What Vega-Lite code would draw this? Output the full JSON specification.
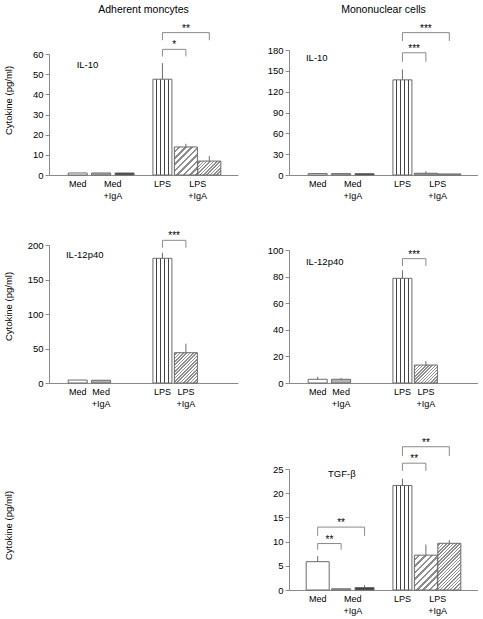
{
"$schema": "https://vega.github.io/schema/vega-lite/v6.json",
"padding": {"left": 3, "top": 4, "right": 0, "bottom": 0},
"config": {
 "font": "Liberation Sans",
 "view": {"stroke": null},
 "text": {"color": "black"},
 "title": {"fontSize": 10.5, "fontWeight": "normal", "frame": "group", "offset": 6, "color": "black", "font": "Liberation Sans"},
 "axis": {"domainColor": "#8a8a8a", "tickColor": "#8a8a8a", "labelColor": "black", "labelFontSize": 9.5, "labelFont": "Liberation Sans", "titleFont": "Liberation Sans", "titleFontSize": 9.5, "titleFontWeight": "normal", "titleColor": "black", "tickSize": 4, "labelPadding": 2, "grid": false, "labelOverlap": false}
},
"datasets": {
 "bars": [
  {"p":"A","cond":"Med","trt":"a","v":1.0},
  {"p":"A","cond":"Med","trt":"b","v":1.0},
  {"p":"A","cond":"Med","trt":"c","v":1.0},
  {"p":"A","cond":"LPS","trt":"a","v":47.5,"hi":55.5},
  {"p":"A","cond":"LPS","trt":"b","v":13.9,"hi":15.5},
  {"p":"A","cond":"LPS","trt":"c","v":6.9,"hi":9.4},
  {"p":"B","cond":"Med","trt":"a","v":2.0},
  {"p":"B","cond":"Med","trt":"b","v":2.0},
  {"p":"B","cond":"Med","trt":"c","v":2.0},
  {"p":"B","cond":"LPS","trt":"a","v":137,"hi":152},
  {"p":"B","cond":"LPS","trt":"b","v":2.5,"hi":5.5},
  {"p":"B","cond":"LPS","trt":"c","v":1.5},
  {"p":"C","cond":"Med","trt":"a","v":4.3},
  {"p":"C","cond":"Med","trt":"b","v":4.0},
  {"p":"C","cond":"LPS","trt":"a","v":180.7,"hi":188.8},
  {"p":"C","cond":"LPS","trt":"b","v":43.9,"hi":57},
  {"p":"D","cond":"Med","trt":"a","v":2.8,"hi":4.7},
  {"p":"D","cond":"Med","trt":"b","v":2.8,"hi":3.8},
  {"p":"D","cond":"LPS","trt":"a","v":78.7,"hi":84.7},
  {"p":"D","cond":"LPS","trt":"b","v":13.5,"hi":16.5},
  {"p":"E","cond":"Med","trt":"a","v":5.85,"hi":7.0},
  {"p":"E","cond":"Med","trt":"b","v":0.25},
  {"p":"E","cond":"Med","trt":"c","v":0.5,"hi":1.0},
  {"p":"E","cond":"LPS","trt":"a","v":21.6,"hi":23.0},
  {"p":"E","cond":"LPS","trt":"b","v":7.2,"hi":9.4},
  {"p":"E","cond":"LPS","trt":"c","v":9.65,"hi":10.3}
 ],
 "brk": [
  {"p":"A","bid":"A1","cond":"LPS","trt":"a","v":58.8,"o":1},
  {"p":"A","bid":"A1","cond":"LPS","trt":"a","v":62.3,"o":2},
  {"p":"A","bid":"A1","cond":"LPS","trt":"b","v":62.3,"o":3},
  {"p":"A","bid":"A1","cond":"LPS","trt":"b","v":58.8,"o":4},
  {"p":"A","bid":"A2","cond":"LPS","trt":"a","v":66.8,"o":1},
  {"p":"A","bid":"A2","cond":"LPS","trt":"a","v":70.6,"o":2},
  {"p":"A","bid":"A2","cond":"LPS","trt":"c","v":70.6,"o":3},
  {"p":"A","bid":"A2","cond":"LPS","trt":"c","v":66.8,"o":4},
  {"p":"B","bid":"B1","cond":"LPS","trt":"a","v":163,"o":1},
  {"p":"B","bid":"B1","cond":"LPS","trt":"a","v":176,"o":2},
  {"p":"B","bid":"B1","cond":"LPS","trt":"b","v":176,"o":3},
  {"p":"B","bid":"B1","cond":"LPS","trt":"b","v":163,"o":4},
  {"p":"B","bid":"B2","cond":"LPS","trt":"a","v":193,"o":1},
  {"p":"B","bid":"B2","cond":"LPS","trt":"a","v":205,"o":2},
  {"p":"B","bid":"B2","cond":"LPS","trt":"c","v":205,"o":3},
  {"p":"B","bid":"B2","cond":"LPS","trt":"c","v":193,"o":4},
  {"p":"C","bid":"C1","cond":"LPS","trt":"a","v":196,"o":1},
  {"p":"C","bid":"C1","cond":"LPS","trt":"a","v":206.8,"o":2},
  {"p":"C","bid":"C1","cond":"LPS","trt":"b","v":206.8,"o":3},
  {"p":"C","bid":"C1","cond":"LPS","trt":"b","v":196,"o":4},
  {"p":"D","bid":"D1","cond":"LPS","trt":"a","v":88,"o":1},
  {"p":"D","bid":"D1","cond":"LPS","trt":"a","v":93.5,"o":2},
  {"p":"D","bid":"D1","cond":"LPS","trt":"b","v":93.5,"o":3},
  {"p":"D","bid":"D1","cond":"LPS","trt":"b","v":88,"o":4},
  {"p":"E","bid":"E1","cond":"Med","trt":"a","v":8.3,"o":1},
  {"p":"E","bid":"E1","cond":"Med","trt":"a","v":9.6,"o":2},
  {"p":"E","bid":"E1","cond":"Med","trt":"b","v":9.6,"o":3},
  {"p":"E","bid":"E1","cond":"Med","trt":"b","v":8.3,"o":4},
  {"p":"E","bid":"E2","cond":"Med","trt":"a","v":11.2,"o":1},
  {"p":"E","bid":"E2","cond":"Med","trt":"a","v":13.0,"o":2},
  {"p":"E","bid":"E2","cond":"Med","trt":"c","v":13.0,"o":3},
  {"p":"E","bid":"E2","cond":"Med","trt":"c","v":11.2,"o":4},
  {"p":"E","bid":"E3","cond":"LPS","trt":"a","v":24.6,"o":1},
  {"p":"E","bid":"E3","cond":"LPS","trt":"a","v":26.2,"o":2},
  {"p":"E","bid":"E3","cond":"LPS","trt":"b","v":26.2,"o":3},
  {"p":"E","bid":"E3","cond":"LPS","trt":"b","v":24.6,"o":4},
  {"p":"E","bid":"E4","cond":"LPS","trt":"a","v":27.7,"o":1},
  {"p":"E","bid":"E4","cond":"LPS","trt":"a","v":29.6,"o":2},
  {"p":"E","bid":"E4","cond":"LPS","trt":"c","v":29.6,"o":3},
  {"p":"E","bid":"E4","cond":"LPS","trt":"c","v":27.7,"o":4}
 ],
 "stars": [
  {"p":"A","cond":"LPS","from":"a","to":"b","v":62.3,"s":"*"},
  {"p":"A","cond":"LPS","from":"a","to":"c","v":70.6,"s":"**"},
  {"p":"B","cond":"LPS","from":"a","to":"b","v":176,"s":"***"},
  {"p":"B","cond":"LPS","from":"a","to":"c","v":205,"s":"***"},
  {"p":"C","cond":"LPS","from":"a","to":"b","v":206.8,"s":"***"},
  {"p":"D","cond":"LPS","from":"a","to":"b","v":93.5,"s":"***"},
  {"p":"E","cond":"Med","from":"a","to":"b","v":9.6,"s":"**"},
  {"p":"E","cond":"Med","from":"a","to":"c","v":13.0,"s":"**"},
  {"p":"E","cond":"LPS","from":"a","to":"b","v":26.2,"s":"**"},
  {"p":"E","cond":"LPS","from":"a","to":"c","v":29.6,"s":"**"}
 ],
 "labs": [
  {"p":"A","cond":"Med","first":"a","last":"a","text":"Med"},
  {"p":"A","cond":"Med","first":"b","last":"c","text":"Med\n+IgA"},
  {"p":"A","cond":"LPS","first":"a","last":"a","text":"LPS"},
  {"p":"A","cond":"LPS","first":"b","last":"c","text":"LPS\n+IgA"},
  {"p":"B","cond":"Med","first":"a","last":"a","text":"Med"},
  {"p":"B","cond":"Med","first":"b","last":"c","text":"Med\n+IgA"},
  {"p":"B","cond":"LPS","first":"a","last":"a","text":"LPS"},
  {"p":"B","cond":"LPS","first":"b","last":"c","text":"LPS\n+IgA"},
  {"p":"C","cond":"Med","first":"a","last":"a","text":"Med"},
  {"p":"C","cond":"Med","first":"b","last":"b","text":"Med\n+IgA"},
  {"p":"C","cond":"LPS","first":"a","last":"a","text":"LPS"},
  {"p":"C","cond":"LPS","first":"b","last":"b","text":"LPS\n+IgA"},
  {"p":"D","cond":"Med","first":"a","last":"a","text":"Med"},
  {"p":"D","cond":"Med","first":"b","last":"b","text":"Med\n+IgA"},
  {"p":"D","cond":"LPS","first":"a","last":"a","text":"LPS"},
  {"p":"D","cond":"LPS","first":"b","last":"b","text":"LPS\n+IgA"},
  {"p":"E","cond":"Med","first":"a","last":"a","text":"Med"},
  {"p":"E","cond":"Med","first":"b","last":"c","text":"Med\n+IgA"},
  {"p":"E","cond":"LPS","first":"a","last":"a","text":"LPS"},
  {"p":"E","cond":"LPS","first":"b","last":"c","text":"LPS\n+IgA"}
 ],
 "plab": [
  {"p":"A","text":"IL-10"},
  {"p":"B","text":"IL-10"},
  {"p":"C","text":"IL-12p40"},
  {"p":"D","text":"IL-12p40"},
  {"p":"E","text":"TGF-β"}
 ]
},
"columns": 2,
"bounds": "flush",
"spacing": {"row": 54, "column": 51},
"concat": [
 {
  "width": 189, "height": 154,
  "title": {"text": "Adherent moncytes"},
  "layer": [
   {"data": {"name": "bars"}, "transform": [{"filter": "datum.p==='A'"}],
    "mark": {"type": "bar", "stroke": "#6a6a6a", "strokeWidth": 1},
    "encoding": {
     "x": {"field": "cond", "type": "nominal", "scale": {"domain": ["Med","LPS"], "paddingInner": 0.17, "paddingOuter": 0.2}, "axis": {"labels": false, "ticks": false, "title": null}},
     "xOffset": {"field": "trt", "type": "nominal", "scale": {"domain": ["a","b","c"], "paddingInner": 0.19, "paddingOuter": 0.095}},
     "y": {"field": "v", "type": "quantitative", "scale": {"domain": [0,60], "range": [154,33], "nice": false, "zero": true}, "axis": {"values": [0,10,20,30,40,50,60], "title": "Cytokine (pg/ml)", "titleY": 79, "minExtent": 32, "maxExtent": 32, "titlePadding": 4}},
     "size": {"condition": {"test": "datum.cond==='LPS' && datum.trt!=='a'", "value": 23}, "value": 19},
     "fill": {"condition": [
      {"test": "datum.cond==='Med' && datum.trt==='b'", "value": "#b3b3b3"},
      {"test": "datum.cond==='Med' && datum.trt==='c'", "value": "#3c3c3c"},
      {"test": "datum.cond==='LPS' && datum.trt==='a'", "value": {"gradient": "linear", "x1": 0, "y1": 0, "x2": 1, "y2": 0, "stops": [{"offset":0,"color":"white"},{"offset":0.17,"color":"white"},{"offset":0.17,"color":"#444"},{"offset":0.23,"color":"#444"},{"offset":0.23,"color":"white"},{"offset":0.37,"color":"white"},{"offset":0.37,"color":"#444"},{"offset":0.43,"color":"#444"},{"offset":0.43,"color":"white"},{"offset":0.57,"color":"white"},{"offset":0.57,"color":"#444"},{"offset":0.63,"color":"#444"},{"offset":0.63,"color":"white"},{"offset":0.77,"color":"white"},{"offset":0.77,"color":"#444"},{"offset":0.83,"color":"#444"},{"offset":0.83,"color":"white"},{"offset":1,"color":"white"}]}},
      {"test": "datum.cond==='LPS' && datum.trt==='b'", "value": {"gradient": "linear", "x1": 0, "y1": 0, "x2": 0.893, "y2": 1.088, "stops": [{"offset":0,"color":"white"},{"offset":0.075,"color":"white"},{"offset":0.075,"color":"#8e8e8e"},{"offset":0.125,"color":"#8e8e8e"},{"offset":0.125,"color":"white"},{"offset":0.2,"color":"white"},{"offset":0.2,"color":"#8e8e8e"},{"offset":0.25,"color":"#8e8e8e"},{"offset":0.25,"color":"white"},{"offset":0.325,"color":"white"},{"offset":0.325,"color":"#8e8e8e"},{"offset":0.375,"color":"#8e8e8e"},{"offset":0.375,"color":"white"},{"offset":0.45,"color":"white"},{"offset":0.45,"color":"#8e8e8e"},{"offset":0.5,"color":"#8e8e8e"},{"offset":0.5,"color":"white"},{"offset":0.575,"color":"white"},{"offset":0.575,"color":"#8e8e8e"},{"offset":0.625,"color":"#8e8e8e"},{"offset":0.625,"color":"white"},{"offset":0.7,"color":"white"},{"offset":0.7,"color":"#8e8e8e"},{"offset":0.75,"color":"#8e8e8e"},{"offset":0.75,"color":"white"},{"offset":0.825,"color":"white"},{"offset":0.825,"color":"#8e8e8e"},{"offset":0.875,"color":"#8e8e8e"},{"offset":0.875,"color":"white"},{"offset":0.95,"color":"white"},{"offset":0.95,"color":"#8e8e8e"},{"offset":1,"color":"#8e8e8e"}]}},
      {"test": "datum.cond==='LPS' && datum.trt==='c'", "value": {"gradient": "linear", "x1": 0, "y1": 0, "x2": 1.175, "y2": 0.71, "stops": [{"offset":0,"color":"white"},{"offset":0.05,"color":"white"},{"offset":0.05,"color":"#8e8e8e"},{"offset":0.091,"color":"#8e8e8e"},{"offset":0.091,"color":"white"},{"offset":0.141,"color":"white"},{"offset":0.141,"color":"#8e8e8e"},{"offset":0.182,"color":"#8e8e8e"},{"offset":0.182,"color":"white"},{"offset":0.232,"color":"white"},{"offset":0.232,"color":"#8e8e8e"},{"offset":0.273,"color":"#8e8e8e"},{"offset":0.273,"color":"white"},{"offset":0.323,"color":"white"},{"offset":0.323,"color":"#8e8e8e"},{"offset":0.364,"color":"#8e8e8e"},{"offset":0.364,"color":"white"},{"offset":0.414,"color":"white"},{"offset":0.414,"color":"#8e8e8e"},{"offset":0.455,"color":"#8e8e8e"},{"offset":0.455,"color":"white"},{"offset":0.505,"color":"white"},{"offset":0.505,"color":"#8e8e8e"},{"offset":0.545,"color":"#8e8e8e"},{"offset":0.545,"color":"white"},{"offset":0.595,"color":"white"},{"offset":0.595,"color":"#8e8e8e"},{"offset":0.636,"color":"#8e8e8e"},{"offset":0.636,"color":"white"},{"offset":0.686,"color":"white"},{"offset":0.686,"color":"#8e8e8e"},{"offset":0.727,"color":"#8e8e8e"},{"offset":0.727,"color":"white"},{"offset":0.777,"color":"white"},{"offset":0.777,"color":"#8e8e8e"},{"offset":0.818,"color":"#8e8e8e"},{"offset":0.818,"color":"white"},{"offset":0.868,"color":"white"},{"offset":0.868,"color":"#8e8e8e"},{"offset":0.909,"color":"#8e8e8e"},{"offset":0.909,"color":"white"},{"offset":0.959,"color":"white"},{"offset":0.959,"color":"#8e8e8e"},{"offset":1,"color":"#8e8e8e"}]}}
     ], "value": "white"}
    }},
   {"data": {"name": "bars"}, "transform": [{"filter": "datum.p==='A' && isValid(datum.hi)"}], "mark": {"type": "rule", "color": "#6a6a6a", "strokeWidth": 1}, "encoding": {"x": {"field": "cond", "type": "nominal"}, "xOffset": {"field": "trt", "type": "nominal"}, "y": {"field": "v", "type": "quantitative", "axis": {"values": [0,10,20,30,40,50,60], "title": "Cytokine (pg/ml)", "titleY": 79, "minExtent": 32, "maxExtent": 32, "titlePadding": 4}}, "y2": {"field": "hi"}}},
   {"data": {"name": "brk"}, "transform": [{"filter": "datum.p==='A'"}], "mark": {"type": "line", "color": "#8a8a8a", "strokeWidth": 1}, "encoding": {"x": {"field": "cond", "type": "nominal"}, "xOffset": {"field": "trt", "type": "nominal"}, "y": {"field": "v", "type": "quantitative", "axis": {"values": [0,10,20,30,40,50,60], "title": "Cytokine (pg/ml)", "titleY": 79, "minExtent": 32, "maxExtent": 32, "titlePadding": 4}}, "detail": {"field": "bid"}, "order": {"field": "o", "type": "quantitative"}}},
   {"data": {"name": "stars"}, "transform": [{"filter": "datum.p==='A' && datum.to==='b'"}], "mark": {"type": "text", "color": "black", "dx": -11.7, "dy": -1, "baseline": "alphabetic", "fontSize": 10}, "encoding": {"x": {"field": "cond", "type": "nominal"}, "xOffset": {"datum": "b"}, "y": {"field": "v", "type": "quantitative", "axis": {"values": [0,10,20,30,40,50,60], "title": "Cytokine (pg/ml)", "titleY": 79, "minExtent": 32, "maxExtent": 32, "titlePadding": 4}}, "text": {"field": "s"}}},
   {"data": {"name": "stars"}, "transform": [{"filter": "datum.p==='A' && datum.to==='c'"}], "mark": {"type": "text", "color": "black", "dy": -1, "baseline": "alphabetic", "fontSize": 10}, "encoding": {"x": {"field": "cond", "type": "nominal"}, "xOffset": {"datum": "b"}, "y": {"field": "v", "type": "quantitative", "axis": {"values": [0,10,20,30,40,50,60], "title": "Cytokine (pg/ml)", "titleY": 79, "minExtent": 32, "maxExtent": 32, "titlePadding": 4}}, "text": {"field": "s"}}},
   {"data": {"name": "labs"}, "transform": [{"filter": "datum.p==='A' && datum.first===datum.last"}], "mark": {"type": "text", "color": "black", "baseline": "top", "dy": 5, "lineBreak": "\n", "lineHeight": 12, "fontSize": 9}, "encoding": {"x": {"field": "cond", "type": "nominal"}, "xOffset": {"field": "first"}, "y": {"datum": 0, "type": "quantitative", "axis": {"values": [0,10,20,30,40,50,60], "title": "Cytokine (pg/ml)", "titleY": 79, "minExtent": 32, "maxExtent": 32, "titlePadding": 4}}, "text": {"field": "text"}}},
   {"data": {"name": "labs"}, "transform": [{"filter": "datum.p==='A' && datum.first!==datum.last"}], "mark": {"type": "text", "color": "black", "baseline": "top", "dy": 5, "dx": -11.7, "lineBreak": "\n", "lineHeight": 12, "fontSize": 9}, "encoding": {"x": {"field": "cond", "type": "nominal"}, "xOffset": {"field": "last"}, "y": {"datum": 0, "type": "quantitative", "axis": {"values": [0,10,20,30,40,50,60], "title": "Cytokine (pg/ml)", "titleY": 79, "minExtent": 32, "maxExtent": 32, "titlePadding": 4}}, "text": {"field": "text"}}},
   {"data": {"name": "plab"}, "transform": [{"filter": "datum.p==='A'"}], "mark": {"type": "text", "color": "black", "align": "left", "baseline": "middle", "dx": -1, "fontSize": 9.5}, "encoding": {"x": {"datum": "Med"}, "xOffset": {"datum": "a"}, "y": {"datum": 54.5, "type": "quantitative", "axis": {"values": [0,10,20,30,40,50,60], "title": "Cytokine (pg/ml)", "titleY": 79, "minExtent": 32, "maxExtent": 32, "titlePadding": 4}}, "text": {"field": "text"}}}
  ]
 },
 {
  "width": 189, "height": 154,
  "title": {"text": "Mononuclear cells"},
  "layer": [
   {"data": {"name": "bars"}, "transform": [{"filter": "datum.p==='B'"}],
    "mark": {"type": "bar", "stroke": "#6a6a6a", "strokeWidth": 1},
    "encoding": {
     "x": {"field": "cond", "type": "nominal", "scale": {"domain": ["Med","LPS"], "paddingInner": 0.17, "paddingOuter": 0.2}, "axis": {"labels": false, "ticks": false, "title": null}},
     "xOffset": {"field": "trt", "type": "nominal", "scale": {"domain": ["a","b","c"], "paddingInner": 0.19, "paddingOuter": 0.095}},
     "y": {"field": "v", "type": "quantitative", "scale": {"domain": [0,180], "range": [154,29], "nice": false, "zero": true}, "axis": {"values": [0,30,60,90,120,150,180], "title": null}},
     "size": {"condition": {"test": "datum.cond==='LPS' && datum.trt!=='a'", "value": 23}, "value": 19},
     "fill": {"condition": [
      {"test": "datum.cond==='Med' && datum.trt==='b'", "value": "#b3b3b3"},
      {"test": "datum.cond==='Med' && datum.trt==='c'", "value": "#3c3c3c"},
      {"test": "datum.cond==='LPS' && datum.trt==='a'", "value": {"gradient": "linear", "x1": 0, "y1": 0, "x2": 1, "y2": 0, "stops": [{"offset":0,"color":"white"},{"offset":0.17,"color":"white"},{"offset":0.17,"color":"#444"},{"offset":0.23,"color":"#444"},{"offset":0.23,"color":"white"},{"offset":0.37,"color":"white"},{"offset":0.37,"color":"#444"},{"offset":0.43,"color":"#444"},{"offset":0.43,"color":"white"},{"offset":0.57,"color":"white"},{"offset":0.57,"color":"#444"},{"offset":0.63,"color":"#444"},{"offset":0.63,"color":"white"},{"offset":0.77,"color":"white"},{"offset":0.77,"color":"#444"},{"offset":0.83,"color":"#444"},{"offset":0.83,"color":"white"},{"offset":1,"color":"white"}]}},
      {"test": "datum.cond==='LPS'", "value": "#a8a8a8"}
     ], "value": "white"}
    }},
   {"data": {"name": "bars"}, "transform": [{"filter": "datum.p==='B' && isValid(datum.hi)"}], "mark": {"type": "rule", "color": "#6a6a6a", "strokeWidth": 1}, "encoding": {"x": {"field": "cond", "type": "nominal"}, "xOffset": {"field": "trt", "type": "nominal"}, "y": {"field": "v", "type": "quantitative", "axis": {"values": [0,30,60,90,120,150,180], "title": null}}, "y2": {"field": "hi"}}},
   {"data": {"name": "brk"}, "transform": [{"filter": "datum.p==='B'"}], "mark": {"type": "line", "color": "#8a8a8a", "strokeWidth": 1}, "encoding": {"x": {"field": "cond", "type": "nominal"}, "xOffset": {"field": "trt", "type": "nominal"}, "y": {"field": "v", "type": "quantitative", "axis": {"values": [0,30,60,90,120,150,180], "title": null}}, "detail": {"field": "bid"}, "order": {"field": "o", "type": "quantitative"}}},
   {"data": {"name": "stars"}, "transform": [{"filter": "datum.p==='B' && datum.to==='b'"}], "mark": {"type": "text", "color": "black", "dx": -11.7, "dy": -1, "baseline": "alphabetic", "fontSize": 10}, "encoding": {"x": {"field": "cond", "type": "nominal"}, "xOffset": {"datum": "b"}, "y": {"field": "v", "type": "quantitative", "axis": {"values": [0,30,60,90,120,150,180], "title": null}}, "text": {"field": "s"}}},
   {"data": {"name": "stars"}, "transform": [{"filter": "datum.p==='B' && datum.to==='c'"}], "mark": {"type": "text", "color": "black", "dy": -1, "baseline": "alphabetic", "fontSize": 10}, "encoding": {"x": {"field": "cond", "type": "nominal"}, "xOffset": {"datum": "b"}, "y": {"field": "v", "type": "quantitative", "axis": {"values": [0,30,60,90,120,150,180], "title": null}}, "text": {"field": "s"}}},
   {"data": {"name": "labs"}, "transform": [{"filter": "datum.p==='B' && datum.first===datum.last"}], "mark": {"type": "text", "color": "black", "baseline": "top", "dy": 5, "lineBreak": "\n", "lineHeight": 12, "fontSize": 9}, "encoding": {"x": {"field": "cond", "type": "nominal"}, "xOffset": {"field": "first"}, "y": {"datum": 0, "type": "quantitative", "axis": {"values": [0,30,60,90,120,150,180], "title": null}}, "text": {"field": "text"}}},
   {"data": {"name": "labs"}, "transform": [{"filter": "datum.p==='B' && datum.first!==datum.last"}], "mark": {"type": "text", "color": "black", "baseline": "top", "dy": 5, "dx": -11.7, "lineBreak": "\n", "lineHeight": 12, "fontSize": 9}, "encoding": {"x": {"field": "cond", "type": "nominal"}, "xOffset": {"field": "last"}, "y": {"datum": 0, "type": "quantitative", "axis": {"values": [0,30,60,90,120,150,180], "title": null}}, "text": {"field": "text"}}},
   {"data": {"name": "plab"}, "transform": [{"filter": "datum.p==='B'"}], "mark": {"type": "text", "color": "black", "align": "left", "baseline": "middle", "dx": -11.7, "fontSize": 9.5}, "encoding": {"x": {"datum": "Med"}, "xOffset": {"datum": "a"}, "y": {"datum": 167.8, "type": "quantitative", "axis": {"values": [0,30,60,90,120,150,180], "title": null}}, "text": {"field": "text"}}}
  ]
 },
 {
  "width": 189, "height": 154,
  "layer": [
   {"data": {"name": "bars"}, "transform": [{"filter": "datum.p==='C'"}],
    "mark": {"type": "bar", "stroke": "#6a6a6a", "strokeWidth": 1},
    "encoding": {
     "x": {"field": "cond", "type": "nominal", "scale": {"domain": ["Med","LPS"], "paddingInner": 0.17, "paddingOuter": 0.2}, "axis": {"labels": false, "ticks": false, "title": null}},
     "xOffset": {"field": "trt", "type": "nominal", "scale": {"domain": ["a","b","c"], "paddingInner": 0.19, "paddingOuter": 0.095}},
     "y": {"field": "v", "type": "quantitative", "scale": {"domain": [0,200], "range": [154,16], "nice": false, "zero": true}, "axis": {"values": [0,50,100,150,200], "title": "Cytokine (pg/ml)", "titleY": 77, "minExtent": 32, "maxExtent": 32, "titlePadding": 4}},
     "size": {"condition": {"test": "datum.cond==='LPS' && datum.trt!=='a'", "value": 23}, "value": 19},
     "fill": {"condition": [
      {"test": "datum.cond==='Med' && datum.trt==='b'", "value": "#b3b3b3"},
      {"test": "datum.cond==='LPS' && datum.trt==='a'", "value": {"gradient": "linear", "x1": 0, "y1": 0, "x2": 1, "y2": 0, "stops": [{"offset":0,"color":"white"},{"offset":0.17,"color":"white"},{"offset":0.17,"color":"#444"},{"offset":0.23,"color":"#444"},{"offset":0.23,"color":"white"},{"offset":0.37,"color":"white"},{"offset":0.37,"color":"#444"},{"offset":0.43,"color":"#444"},{"offset":0.43,"color":"white"},{"offset":0.57,"color":"white"},{"offset":0.57,"color":"#444"},{"offset":0.63,"color":"#444"},{"offset":0.63,"color":"white"},{"offset":0.77,"color":"white"},{"offset":0.77,"color":"#444"},{"offset":0.83,"color":"#444"},{"offset":0.83,"color":"white"},{"offset":1,"color":"white"}]}},
      {"test": "datum.cond==='LPS' && datum.trt==='b'", "value": {"gradient": "linear", "x1": 0, "y1": 0, "x2": 0.847, "y2": 1.116, "stops": [{"offset":0,"color":"white"},{"offset":0.034,"color":"white"},{"offset":0.034,"color":"#8e8e8e"},{"offset":0.0625,"color":"#8e8e8e"},{"offset":0.0625,"color":"white"},{"offset":0.097,"color":"white"},{"offset":0.097,"color":"#8e8e8e"},{"offset":0.125,"color":"#8e8e8e"},{"offset":0.125,"color":"white"},{"offset":0.159,"color":"white"},{"offset":0.159,"color":"#8e8e8e"},{"offset":0.1875,"color":"#8e8e8e"},{"offset":0.1875,"color":"white"},{"offset":0.222,"color":"white"},{"offset":0.222,"color":"#8e8e8e"},{"offset":0.25,"color":"#8e8e8e"},{"offset":0.25,"color":"white"},{"offset":0.284,"color":"white"},{"offset":0.284,"color":"#8e8e8e"},{"offset":0.3125,"color":"#8e8e8e"},{"offset":0.3125,"color":"white"},{"offset":0.347,"color":"white"},{"offset":0.347,"color":"#8e8e8e"},{"offset":0.375,"color":"#8e8e8e"},{"offset":0.375,"color":"white"},{"offset":0.409,"color":"white"},{"offset":0.409,"color":"#8e8e8e"},{"offset":0.4375,"color":"#8e8e8e"},{"offset":0.4375,"color":"white"},{"offset":0.472,"color":"white"},{"offset":0.472,"color":"#8e8e8e"},{"offset":0.5,"color":"#8e8e8e"},{"offset":0.5,"color":"white"},{"offset":0.534,"color":"white"},{"offset":0.534,"color":"#8e8e8e"},{"offset":0.5625,"color":"#8e8e8e"},{"offset":0.5625,"color":"white"},{"offset":0.597,"color":"white"},{"offset":0.597,"color":"#8e8e8e"},{"offset":0.625,"color":"#8e8e8e"},{"offset":0.625,"color":"white"},{"offset":0.659,"color":"white"},{"offset":0.659,"color":"#8e8e8e"},{"offset":0.6875,"color":"#8e8e8e"},{"offset":0.6875,"color":"white"},{"offset":0.722,"color":"white"},{"offset":0.722,"color":"#8e8e8e"},{"offset":0.75,"color":"#8e8e8e"},{"offset":0.75,"color":"white"},{"offset":0.784,"color":"white"},{"offset":0.784,"color":"#8e8e8e"},{"offset":0.8125,"color":"#8e8e8e"},{"offset":0.8125,"color":"white"},{"offset":0.847,"color":"white"},{"offset":0.847,"color":"#8e8e8e"},{"offset":0.875,"color":"#8e8e8e"},{"offset":0.875,"color":"white"},{"offset":0.909,"color":"white"},{"offset":0.909,"color":"#8e8e8e"},{"offset":0.9375,"color":"#8e8e8e"},{"offset":0.9375,"color":"white"},{"offset":0.972,"color":"white"},{"offset":0.972,"color":"#8e8e8e"},{"offset":1,"color":"#8e8e8e"}]}}
     ], "value": "white"}
    }},
   {"data": {"name": "bars"}, "transform": [{"filter": "datum.p==='C' && isValid(datum.hi)"}], "mark": {"type": "rule", "color": "#6a6a6a", "strokeWidth": 1}, "encoding": {"x": {"field": "cond", "type": "nominal"}, "xOffset": {"field": "trt", "type": "nominal"}, "y": {"field": "v", "type": "quantitative", "axis": {"values": [0,50,100,150,200], "title": "Cytokine (pg/ml)", "titleY": 77, "minExtent": 32, "maxExtent": 32, "titlePadding": 4}}, "y2": {"field": "hi"}}},
   {"data": {"name": "brk"}, "transform": [{"filter": "datum.p==='C'"}], "mark": {"type": "line", "color": "#8a8a8a", "strokeWidth": 1}, "encoding": {"x": {"field": "cond", "type": "nominal"}, "xOffset": {"field": "trt", "type": "nominal"}, "y": {"field": "v", "type": "quantitative", "axis": {"values": [0,50,100,150,200], "title": "Cytokine (pg/ml)", "titleY": 77, "minExtent": 32, "maxExtent": 32, "titlePadding": 4}}, "detail": {"field": "bid"}, "order": {"field": "o", "type": "quantitative"}}},
   {"data": {"name": "stars"}, "transform": [{"filter": "datum.p==='C' && datum.to==='b'"}], "mark": {"type": "text", "color": "black", "dx": -11.7, "dy": -1, "baseline": "alphabetic", "fontSize": 10}, "encoding": {"x": {"field": "cond", "type": "nominal"}, "xOffset": {"datum": "b"}, "y": {"field": "v", "type": "quantitative", "axis": {"values": [0,50,100,150,200], "title": "Cytokine (pg/ml)", "titleY": 77, "minExtent": 32, "maxExtent": 32, "titlePadding": 4}}, "text": {"field": "s"}}},
   {"data": {"name": "labs"}, "transform": [{"filter": "datum.p==='C'"}], "mark": {"type": "text", "color": "black", "baseline": "top", "dy": 5, "lineBreak": "\n", "lineHeight": 12, "fontSize": 9}, "encoding": {"x": {"field": "cond", "type": "nominal"}, "xOffset": {"field": "first"}, "y": {"datum": 0, "type": "quantitative", "axis": {"values": [0,50,100,150,200], "title": "Cytokine (pg/ml)", "titleY": 77, "minExtent": 32, "maxExtent": 32, "titlePadding": 4}}, "text": {"field": "text"}}},
   {"data": {"name": "plab"}, "transform": [{"filter": "datum.p==='C'"}], "mark": {"type": "text", "color": "black", "align": "left", "baseline": "middle", "dx": -11.7, "fontSize": 9.5}, "encoding": {"x": {"datum": "Med"}, "xOffset": {"datum": "a"}, "y": {"datum": 185.5, "type": "quantitative", "axis": {"values": [0,50,100,150,200], "title": "Cytokine (pg/ml)", "titleY": 77, "minExtent": 32, "maxExtent": 32, "titlePadding": 4}}, "text": {"field": "text"}}}
  ]
 },
 {
  "width": 189, "height": 154,
  "layer": [
   {"data": {"name": "bars"}, "transform": [{"filter": "datum.p==='D'"}],
    "mark": {"type": "bar", "stroke": "#6a6a6a", "strokeWidth": 1},
    "encoding": {
     "x": {"field": "cond", "type": "nominal", "scale": {"domain": ["Med","LPS"], "paddingInner": 0.17, "paddingOuter": 0.2}, "axis": {"labels": false, "ticks": false, "title": null}},
     "xOffset": {"field": "trt", "type": "nominal", "scale": {"domain": ["a","b","c"], "paddingInner": 0.19, "paddingOuter": 0.095}},
     "y": {"field": "v", "type": "quantitative", "scale": {"domain": [0,100], "range": [154,21], "nice": false, "zero": true}, "axis": {"values": [0,20,40,60,80,100], "title": null}},
     "size": {"condition": {"test": "datum.cond==='LPS' && datum.trt!=='a'", "value": 23}, "value": 19},
     "fill": {"condition": [
      {"test": "datum.cond==='Med' && datum.trt==='b'", "value": "#b3b3b3"},
      {"test": "datum.cond==='LPS' && datum.trt==='a'", "value": {"gradient": "linear", "x1": 0, "y1": 0, "x2": 1, "y2": 0, "stops": [{"offset":0,"color":"white"},{"offset":0.17,"color":"white"},{"offset":0.17,"color":"#444"},{"offset":0.23,"color":"#444"},{"offset":0.23,"color":"white"},{"offset":0.37,"color":"white"},{"offset":0.37,"color":"#444"},{"offset":0.43,"color":"#444"},{"offset":0.43,"color":"white"},{"offset":0.57,"color":"white"},{"offset":0.57,"color":"#444"},{"offset":0.63,"color":"#444"},{"offset":0.63,"color":"white"},{"offset":0.77,"color":"white"},{"offset":0.77,"color":"#444"},{"offset":0.83,"color":"#444"},{"offset":0.83,"color":"white"},{"offset":1,"color":"white"}]}},
      {"test": "datum.cond==='LPS' && datum.trt==='b'", "value": {"gradient": "linear", "x1": 0, "y1": 0, "x2": 1.106, "y2": 0.865, "stops": [{"offset":0,"color":"white"},{"offset":0.042,"color":"white"},{"offset":0.042,"color":"#8e8e8e"},{"offset":0.077,"color":"#8e8e8e"},{"offset":0.077,"color":"white"},{"offset":0.119,"color":"white"},{"offset":0.119,"color":"#8e8e8e"},{"offset":0.154,"color":"#8e8e8e"},{"offset":0.154,"color":"white"},{"offset":0.196,"color":"white"},{"offset":0.196,"color":"#8e8e8e"},{"offset":0.231,"color":"#8e8e8e"},{"offset":0.231,"color":"white"},{"offset":0.273,"color":"white"},{"offset":0.273,"color":"#8e8e8e"},{"offset":0.308,"color":"#8e8e8e"},{"offset":0.308,"color":"white"},{"offset":0.35,"color":"white"},{"offset":0.35,"color":"#8e8e8e"},{"offset":0.385,"color":"#8e8e8e"},{"offset":0.385,"color":"white"},{"offset":0.427,"color":"white"},{"offset":0.427,"color":"#8e8e8e"},{"offset":0.462,"color":"#8e8e8e"},{"offset":0.462,"color":"white"},{"offset":0.504,"color":"white"},{"offset":0.504,"color":"#8e8e8e"},{"offset":0.538,"color":"#8e8e8e"},{"offset":0.538,"color":"white"},{"offset":0.58,"color":"white"},{"offset":0.58,"color":"#8e8e8e"},{"offset":0.615,"color":"#8e8e8e"},{"offset":0.615,"color":"white"},{"offset":0.657,"color":"white"},{"offset":0.657,"color":"#8e8e8e"},{"offset":0.692,"color":"#8e8e8e"},{"offset":0.692,"color":"white"},{"offset":0.734,"color":"white"},{"offset":0.734,"color":"#8e8e8e"},{"offset":0.769,"color":"#8e8e8e"},{"offset":0.769,"color":"white"},{"offset":0.811,"color":"white"},{"offset":0.811,"color":"#8e8e8e"},{"offset":0.846,"color":"#8e8e8e"},{"offset":0.846,"color":"white"},{"offset":0.888,"color":"white"},{"offset":0.888,"color":"#8e8e8e"},{"offset":0.923,"color":"#8e8e8e"},{"offset":0.923,"color":"white"},{"offset":0.965,"color":"white"},{"offset":0.965,"color":"#8e8e8e"},{"offset":1,"color":"#8e8e8e"}]}}
     ], "value": "white"}
    }},
   {"data": {"name": "bars"}, "transform": [{"filter": "datum.p==='D' && isValid(datum.hi)"}], "mark": {"type": "rule", "color": "#6a6a6a", "strokeWidth": 1}, "encoding": {"x": {"field": "cond", "type": "nominal"}, "xOffset": {"field": "trt", "type": "nominal"}, "y": {"field": "v", "type": "quantitative", "axis": {"values": [0,20,40,60,80,100], "title": null}}, "y2": {"field": "hi"}}},
   {"data": {"name": "brk"}, "transform": [{"filter": "datum.p==='D'"}], "mark": {"type": "line", "color": "#8a8a8a", "strokeWidth": 1}, "encoding": {"x": {"field": "cond", "type": "nominal"}, "xOffset": {"field": "trt", "type": "nominal"}, "y": {"field": "v", "type": "quantitative", "axis": {"values": [0,20,40,60,80,100], "title": null}}, "detail": {"field": "bid"}, "order": {"field": "o", "type": "quantitative"}}},
   {"data": {"name": "stars"}, "transform": [{"filter": "datum.p==='D' && datum.to==='b'"}], "mark": {"type": "text", "color": "black", "dx": -11.7, "dy": -1, "baseline": "alphabetic", "fontSize": 10}, "encoding": {"x": {"field": "cond", "type": "nominal"}, "xOffset": {"datum": "b"}, "y": {"field": "v", "type": "quantitative", "axis": {"values": [0,20,40,60,80,100], "title": null}}, "text": {"field": "s"}}},
   {"data": {"name": "labs"}, "transform": [{"filter": "datum.p==='D'"}], "mark": {"type": "text", "color": "black", "baseline": "top", "dy": 5, "lineBreak": "\n", "lineHeight": 12, "fontSize": 9}, "encoding": {"x": {"field": "cond", "type": "nominal"}, "xOffset": {"field": "first"}, "y": {"datum": 0, "type": "quantitative", "axis": {"values": [0,20,40,60,80,100], "title": null}}, "text": {"field": "text"}}},
   {"data": {"name": "plab"}, "transform": [{"filter": "datum.p==='D'"}], "mark": {"type": "text", "color": "black", "align": "left", "baseline": "middle", "dx": -11.7, "fontSize": 9.5}, "encoding": {"x": {"datum": "Med"}, "xOffset": {"datum": "a"}, "y": {"datum": 91, "type": "quantitative", "axis": {"values": [0,20,40,60,80,100], "title": null}}, "text": {"field": "text"}}}
  ]
 },
 {
  "width": 189, "height": 153,
  "data": {"name": "bars"},
  "transform": [{"filter": "datum.p==='E'"}],
  "mark": {"type": "point", "opacity": 0},
  "encoding": {
   "y": {"field": "v", "type": "quantitative", "scale": {"domain": [0,25]}, "axis": {"title": "Cytokine (pg/ml)", "domain": false, "ticks": false, "labels": false, "titleY": 88, "minExtent": 32, "maxExtent": 32, "titlePadding": 4}}
  }
 },
 {
  "width": 189, "height": 153,
  "layer": [
   {"data": {"name": "bars"}, "transform": [{"filter": "datum.p==='E'"}],
    "mark": {"type": "bar", "stroke": "#6a6a6a", "strokeWidth": 1},
    "encoding": {
     "x": {"field": "cond", "type": "nominal", "scale": {"domain": ["Med","LPS"], "paddingInner": 0.17, "paddingOuter": 0.2}, "axis": {"labels": false, "ticks": false, "title": null}},
     "xOffset": {"field": "trt", "type": "nominal", "scale": {"domain": ["a","b","c"], "paddingInner": 0.19, "paddingOuter": 0.095}},
     "y": {"field": "v", "type": "quantitative", "scale": {"domain": [0,25], "range": [153,32], "nice": false, "zero": true}, "axis": {"values": [0,5,10,15,20,25], "title": null}},
     "size": {"condition": {"test": "(datum.cond==='LPS' && datum.trt!=='a') || (datum.cond==='Med' && datum.trt==='a')", "value": 23}, "value": 19},
     "fill": {"condition": [
      {"test": "datum.cond==='Med' && datum.trt==='b'", "value": "#b3b3b3"},
      {"test": "datum.cond==='Med' && datum.trt==='c'", "value": "#3c3c3c"},
      {"test": "datum.cond==='LPS' && datum.trt==='a'", "value": {"gradient": "linear", "x1": 0, "y1": 0, "x2": 1, "y2": 0, "stops": [{"offset":0,"color":"white"},{"offset":0.17,"color":"white"},{"offset":0.17,"color":"#444"},{"offset":0.23,"color":"#444"},{"offset":0.23,"color":"white"},{"offset":0.37,"color":"white"},{"offset":0.37,"color":"#444"},{"offset":0.43,"color":"#444"},{"offset":0.43,"color":"white"},{"offset":0.57,"color":"white"},{"offset":0.57,"color":"#444"},{"offset":0.63,"color":"#444"},{"offset":0.63,"color":"white"},{"offset":0.77,"color":"white"},{"offset":0.77,"color":"#444"},{"offset":0.83,"color":"#444"},{"offset":0.83,"color":"white"},{"offset":1,"color":"white"}]}},
      {"test": "datum.cond==='LPS' && datum.trt==='b'", "value": {"gradient": "linear", "x1": 0, "y1": 0, "x2": 0.764, "y2": 1.156, "stops": [{"offset":0,"color":"white"},{"offset":0.067,"color":"white"},{"offset":0.067,"color":"#8e8e8e"},{"offset":0.111,"color":"#8e8e8e"},{"offset":0.111,"color":"white"},{"offset":0.178,"color":"white"},{"offset":0.178,"color":"#8e8e8e"},{"offset":0.222,"color":"#8e8e8e"},{"offset":0.222,"color":"white"},{"offset":0.289,"color":"white"},{"offset":0.289,"color":"#8e8e8e"},{"offset":0.333,"color":"#8e8e8e"},{"offset":0.333,"color":"white"},{"offset":0.4,"color":"white"},{"offset":0.4,"color":"#8e8e8e"},{"offset":0.444,"color":"#8e8e8e"},{"offset":0.444,"color":"white"},{"offset":0.511,"color":"white"},{"offset":0.511,"color":"#8e8e8e"},{"offset":0.556,"color":"#8e8e8e"},{"offset":0.556,"color":"white"},{"offset":0.622,"color":"white"},{"offset":0.622,"color":"#8e8e8e"},{"offset":0.667,"color":"#8e8e8e"},{"offset":0.667,"color":"white"},{"offset":0.733,"color":"white"},{"offset":0.733,"color":"#8e8e8e"},{"offset":0.778,"color":"#8e8e8e"},{"offset":0.778,"color":"white"},{"offset":0.844,"color":"white"},{"offset":0.844,"color":"#8e8e8e"},{"offset":0.889,"color":"#8e8e8e"},{"offset":0.889,"color":"white"},{"offset":0.956,"color":"white"},{"offset":0.956,"color":"#8e8e8e"},{"offset":1,"color":"#8e8e8e"}]}},
      {"test": "datum.cond==='LPS' && datum.trt==='c'", "value": {"gradient": "linear", "x1": 0, "y1": 0, "x2": 0.592, "y2": 1.201, "stops": [{"offset":0,"color":"white"},{"offset":0.026,"color":"white"},{"offset":0.026,"color":"#8e8e8e"},{"offset":0.048,"color":"#8e8e8e"},{"offset":0.048,"color":"white"},{"offset":0.074,"color":"white"},{"offset":0.074,"color":"#8e8e8e"},{"offset":0.095,"color":"#8e8e8e"},{"offset":0.095,"color":"white"},{"offset":0.121,"color":"white"},{"offset":0.121,"color":"#8e8e8e"},{"offset":0.143,"color":"#8e8e8e"},{"offset":0.143,"color":"white"},{"offset":0.169,"color":"white"},{"offset":0.169,"color":"#8e8e8e"},{"offset":0.19,"color":"#8e8e8e"},{"offset":0.19,"color":"white"},{"offset":0.216,"color":"white"},{"offset":0.216,"color":"#8e8e8e"},{"offset":0.238,"color":"#8e8e8e"},{"offset":0.238,"color":"white"},{"offset":0.264,"color":"white"},{"offset":0.264,"color":"#8e8e8e"},{"offset":0.286,"color":"#8e8e8e"},{"offset":0.286,"color":"white"},{"offset":0.312,"color":"white"},{"offset":0.312,"color":"#8e8e8e"},{"offset":0.333,"color":"#8e8e8e"},{"offset":0.333,"color":"white"},{"offset":0.359,"color":"white"},{"offset":0.359,"color":"#8e8e8e"},{"offset":0.381,"color":"#8e8e8e"},{"offset":0.381,"color":"white"},{"offset":0.407,"color":"white"},{"offset":0.407,"color":"#8e8e8e"},{"offset":0.429,"color":"#8e8e8e"},{"offset":0.429,"color":"white"},{"offset":0.455,"color":"white"},{"offset":0.455,"color":"#8e8e8e"},{"offset":0.476,"color":"#8e8e8e"},{"offset":0.476,"color":"white"},{"offset":0.502,"color":"white"},{"offset":0.502,"color":"#8e8e8e"},{"offset":0.524,"color":"#8e8e8e"},{"offset":0.524,"color":"white"},{"offset":0.55,"color":"white"},{"offset":0.55,"color":"#8e8e8e"},{"offset":0.571,"color":"#8e8e8e"},{"offset":0.571,"color":"white"},{"offset":0.597,"color":"white"},{"offset":0.597,"color":"#8e8e8e"},{"offset":0.619,"color":"#8e8e8e"},{"offset":0.619,"color":"white"},{"offset":0.645,"color":"white"},{"offset":0.645,"color":"#8e8e8e"},{"offset":0.667,"color":"#8e8e8e"},{"offset":0.667,"color":"white"},{"offset":0.693,"color":"white"},{"offset":0.693,"color":"#8e8e8e"},{"offset":0.714,"color":"#8e8e8e"},{"offset":0.714,"color":"white"},{"offset":0.74,"color":"white"},{"offset":0.74,"color":"#8e8e8e"},{"offset":0.762,"color":"#8e8e8e"},{"offset":0.762,"color":"white"},{"offset":0.788,"color":"white"},{"offset":0.788,"color":"#8e8e8e"},{"offset":0.81,"color":"#8e8e8e"},{"offset":0.81,"color":"white"},{"offset":0.836,"color":"white"},{"offset":0.836,"color":"#8e8e8e"},{"offset":0.857,"color":"#8e8e8e"},{"offset":0.857,"color":"white"},{"offset":0.883,"color":"white"},{"offset":0.883,"color":"#8e8e8e"},{"offset":0.905,"color":"#8e8e8e"},{"offset":0.905,"color":"white"},{"offset":0.931,"color":"white"},{"offset":0.931,"color":"#8e8e8e"},{"offset":0.952,"color":"#8e8e8e"},{"offset":0.952,"color":"white"},{"offset":0.978,"color":"white"},{"offset":0.978,"color":"#8e8e8e"},{"offset":1,"color":"#8e8e8e"}]}}
     ], "value": "white"}
    }},
   {"data": {"name": "bars"}, "transform": [{"filter": "datum.p==='E' && isValid(datum.hi)"}], "mark": {"type": "rule", "color": "#6a6a6a", "strokeWidth": 1}, "encoding": {"x": {"field": "cond", "type": "nominal"}, "xOffset": {"field": "trt", "type": "nominal"}, "y": {"field": "v", "type": "quantitative", "axis": {"values": [0,5,10,15,20,25], "title": null}}, "y2": {"field": "hi"}}},
   {"data": {"name": "brk"}, "transform": [{"filter": "datum.p==='E'"}], "mark": {"type": "line", "color": "#8a8a8a", "strokeWidth": 1}, "encoding": {"x": {"field": "cond", "type": "nominal"}, "xOffset": {"field": "trt", "type": "nominal"}, "y": {"field": "v", "type": "quantitative", "axis": {"values": [0,5,10,15,20,25], "title": null}}, "detail": {"field": "bid"}, "order": {"field": "o", "type": "quantitative"}}},
   {"data": {"name": "stars"}, "transform": [{"filter": "datum.p==='E' && datum.to==='b'"}], "mark": {"type": "text", "color": "black", "dx": -11.7, "dy": -1, "baseline": "alphabetic", "fontSize": 10}, "encoding": {"x": {"field": "cond", "type": "nominal"}, "xOffset": {"datum": "b"}, "y": {"field": "v", "type": "quantitative", "axis": {"values": [0,5,10,15,20,25], "title": null}}, "text": {"field": "s"}}},
   {"data": {"name": "stars"}, "transform": [{"filter": "datum.p==='E' && datum.to==='c'"}], "mark": {"type": "text", "color": "black", "dy": -1, "baseline": "alphabetic", "fontSize": 10}, "encoding": {"x": {"field": "cond", "type": "nominal"}, "xOffset": {"datum": "b"}, "y": {"field": "v", "type": "quantitative", "axis": {"values": [0,5,10,15,20,25], "title": null}}, "text": {"field": "s"}}},
   {"data": {"name": "labs"}, "transform": [{"filter": "datum.p==='E' && datum.first===datum.last"}], "mark": {"type": "text", "color": "black", "baseline": "top", "dy": 5, "lineBreak": "\n", "lineHeight": 12, "fontSize": 9}, "encoding": {"x": {"field": "cond", "type": "nominal"}, "xOffset": {"field": "first"}, "y": {"datum": 0, "type": "quantitative", "axis": {"values": [0,5,10,15,20,25], "title": null}}, "text": {"field": "text"}}},
   {"data": {"name": "labs"}, "transform": [{"filter": "datum.p==='E' && datum.first!==datum.last"}], "mark": {"type": "text", "color": "black", "baseline": "top", "dy": 5, "dx": -11.7, "lineBreak": "\n", "lineHeight": 12, "fontSize": 9}, "encoding": {"x": {"field": "cond", "type": "nominal"}, "xOffset": {"field": "last"}, "y": {"datum": 0, "type": "quantitative", "axis": {"values": [0,5,10,15,20,25], "title": null}}, "text": {"field": "text"}}},
   {"data": {"name": "plab"}, "transform": [{"filter": "datum.p==='E'"}], "mark": {"type": "text", "color": "black", "align": "left", "baseline": "middle", "dx": 10.3, "fontSize": 9.5}, "encoding": {"x": {"datum": "Med"}, "xOffset": {"datum": "a"}, "y": {"datum": 24.0, "type": "quantitative", "axis": {"values": [0,5,10,15,20,25], "title": null}}, "text": {"field": "text"}}}
  ]
 }
]
}
